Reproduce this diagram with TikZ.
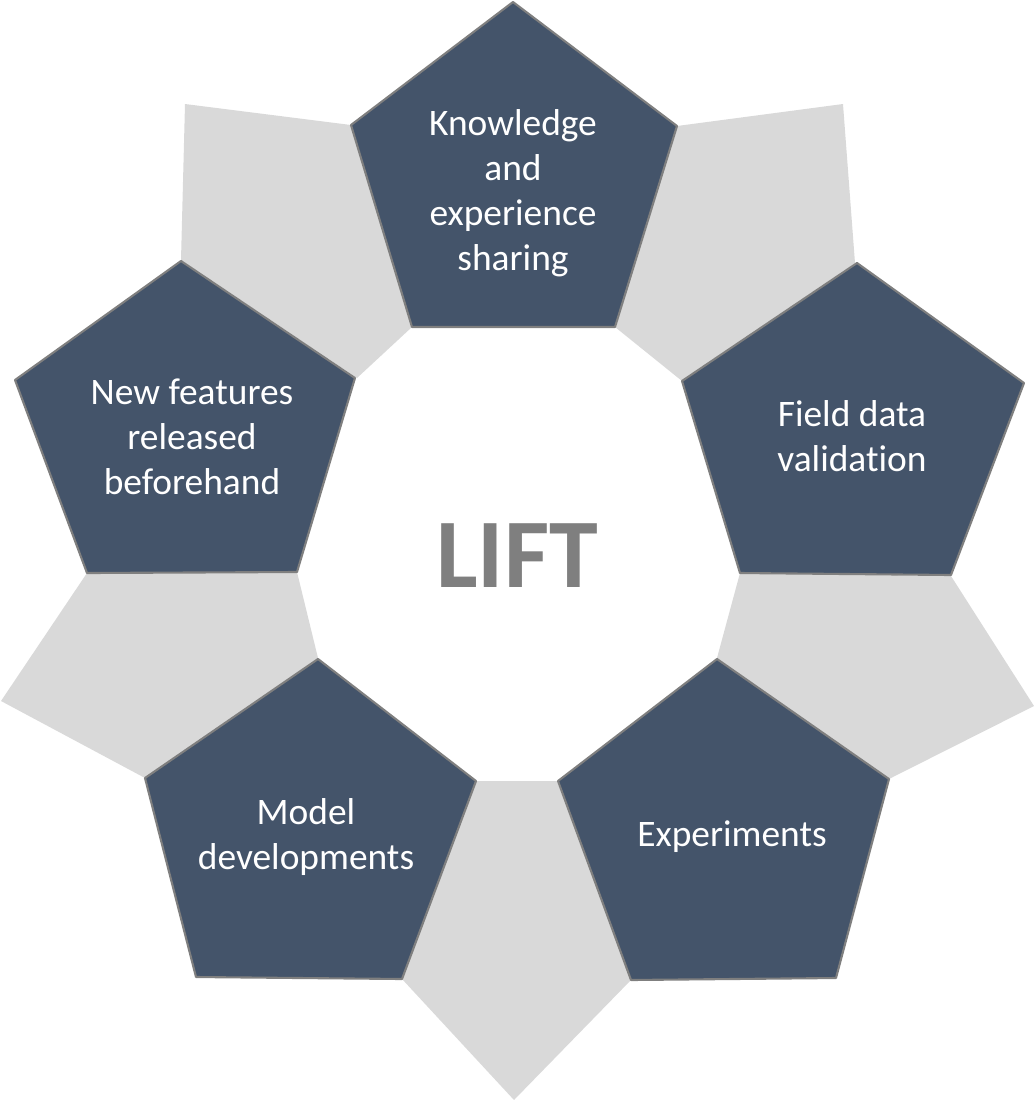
\documentclass[tikz,border=0pt]{standalone}
\usepackage{fontspec}
\setmainfont[Ligatures=NoCommon]{Carlito}

\definecolor{slate}{HTML}{44546A}
\definecolor{petal}{HTML}{D9D9D9}
\definecolor{rim}{HTML}{7F7F7F}

\tikzset{
    greypetal/.style={fill=petal},
    bluepetal/.style={fill=slate, draw=rim, line width=1.2pt, line join=round},
    petallabel/.style={text=white, align=center, font=\fontsize{21.3}{25.6}\selectfont},
    centerlabel/.style={text=rim, font=\fontsize{56}{60}\selectfont\bfseries}
}

\begin{document}
\begin{tikzpicture}[x=0.02cm, y=-0.02cm]
    % Page size
    \useasboundingbox (0,0) rectangle (1035,1100);

    % Grey petals
    \fill[greypetal] (677,126) -- (843,104) -- (855,263) -- (682,381) -- (615,327) -- cycle;
    \fill[greypetal] (951,576) -- (1034,706) -- (889,779) -- (717,658) -- (740,573) -- cycle;
    \fill[greypetal] (476,781) -- (557,781) -- (631,980) -- (514,1100) -- (402,979) -- cycle;
    \fill[greypetal] (87,573) -- (297,572) -- (318,658) -- (145,778) -- (1,701) -- cycle;
    \fill[greypetal] (185,104) -- (351,125) -- (412,327) -- (357,378) -- (181,260) -- cycle;

    % Blue pentagons
    \draw[bluepetal] (513,2) -- (677,126) -- (615,327) -- (412,327) -- (351,125) -- cycle;
    \draw[bluepetal] (857,263) -- (1024,383) -- (951,575) -- (740,573) -- (682,381) -- cycle;
    \draw[bluepetal] (717,659) -- (889,779) -- (836,978) -- (631,980) -- (558,781) -- cycle;
    \draw[bluepetal] (318,659) -- (476,781) -- (402,979) -- (196,977) -- (145,778) -- cycle;
    \draw[bluepetal] (181,261) -- (355,378) -- (297,572) -- (87,573) -- (15,380) -- cycle;

    % Labels
    \node[petallabel] (knowledge) at (513,193) {Knowledge\\and\\experience\\sharing};
    \node[petallabel] (field) at (852,436) {Field data\\validation};
    \node[petallabel] (experiments) at (732,837) {Experiments};
    \node[petallabel] (model) at (306,837) {Model\\developments};
    \node[petallabel] (features) at (192,437) {New features\\released\\beforehand};
    \node[centerlabel] (lift) at (517,556) {LIFT};
\end{tikzpicture}
\end{document}
